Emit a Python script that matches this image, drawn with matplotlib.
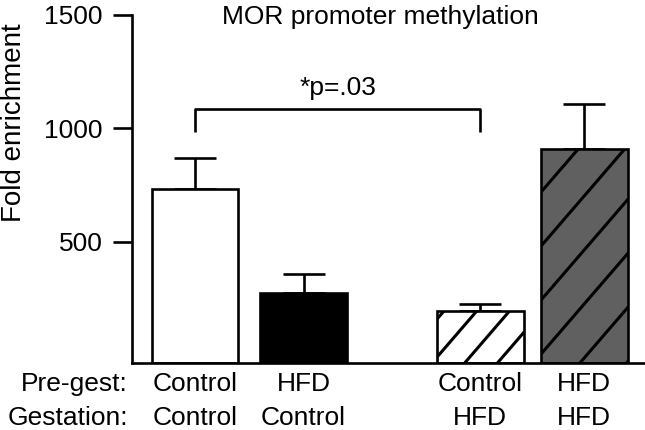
import numpy as np
import matplotlib
matplotlib.use("Agg")
import matplotlib.pyplot as plt
from matplotlib.lines import Line2D
from matplotlib.transforms import IdentityTransform

plt.rcParams['font.family'] = ['Liberation Sans', 'DejaVu Sans']

# data
pregest = ['Control', 'HFD', 'Control', 'HFD']
gestation = ['Control', 'Control', 'HFD', 'HFD']
means = np.array([730, 272, 192, 908])
upper_err = np.array([138, 85, 30, 198])
yticks = [500, 1000, 1500]
p_text = '*p=.03'

# layout / style
xpos = np.array([1.95, 3.035, 4.80, 5.84])
width = 0.87
ymin = -35
faces = ['white', 'black', 'white', '#606060']
hatch_gap = [None, None, 38, 54]   # vertical spacing of stripes, px
hatch_off = [0, 0, 5, 8]
fs = 19
lw = 1.9

fig = plt.figure(figsize=(6.45, 4.3), dpi=100)
ax = fig.add_axes([132 / 645, 1 - 362.7 / 430, 1 - 132 / 645, (362.7 - 15) / 430])
ax.set_xlim(1.32, 6.45)
ax.set_ylim(ymin, 1500)

bars = ax.bar(xpos, means - ymin, bottom=ymin, width=width, color=faces,
              edgecolor='none', zorder=2)
ax.bar(xpos, means - ymin, bottom=ymin, width=width, fill=False,
       edgecolor='black', linewidth=lw, zorder=3)
ax.errorbar(xpos, means, yerr=[np.zeros(len(means)), upper_err], fmt='none',
            ecolor='black', elinewidth=lw, capsize=15, capthick=lw, zorder=1)

# sparse diagonal stripes, clipped to the bar
fig.canvas.draw()
slope = 1.16
for b, gap, off in zip(bars, hatch_gap, hatch_off):
    if gap is None:
        continue
    bb = b.get_window_extent()
    k = -int((bb.height + slope * bb.width) / gap) - 2
    while True:
        c = bb.y0 + off + k * gap
        if c > bb.y1:
            break
        xs = [bb.x0, bb.x1]
        ys = [c, c + slope * bb.width]
        ln = Line2D(xs, ys, transform=IdentityTransform(), color='black',
                    lw=2.2, zorder=2.5)
        ln.set_clip_path(b)
        fig.add_artist(ln)
        k += 1

ax.set_yticks(yticks)
ax.set_xticks([])
ax.tick_params(axis='y', length=14, width=lw, labelsize=fs, pad=7)
for s in ['top', 'right']:
    ax.spines[s].set_visible(False)
for s in ['left', 'bottom']:
    ax.spines[s].set_linewidth(lw)

# significance bracket
yb, ye = 1084, 984
ax.plot([xpos[0], xpos[0], xpos[2], xpos[2]], [ye, yb, yb, ye], color='black',
        lw=lw, solid_capstyle='butt', clip_on=False)
ax.text((xpos[0] + xpos[2]) / 2, yb + 40, p_text, ha='center', va='bottom', fontsize=fs)

ax.text(3.8, 1490, 'MOR promoter methylation', ha='center', va='center', fontsize=fs)

fig.text(14 / 645, 1 - 123 / 430, 'Fold enrichment', rotation=90, ha='center',
         va='center', fontsize=20)

# category labels
fig.text(128 / 645, 1 - 384 / 430, 'Pre-gest:', ha='right', va='center', fontsize=fs)
fig.text(128 / 645, 1 - 418 / 430, 'Gestation:', ha='right', va='center', fontsize=fs)
for x, a, b in zip(xpos, pregest, gestation):
    xf = fig.transFigure.inverted().transform(ax.transData.transform((x, 0)))[0]
    fig.text(xf, 1 - 384 / 430, a, ha='center', va='center', fontsize=fs)
    fig.text(xf, 1 - 418 / 430, b, ha='center', va='center', fontsize=fs)

fig.savefig('out.png', dpi=100)
